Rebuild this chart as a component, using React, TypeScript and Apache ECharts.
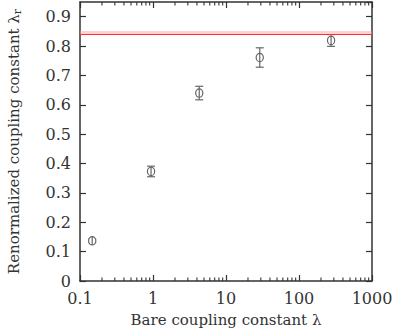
import React, { useEffect, useRef } from "react";
import * as echarts from "echarts";

const bareCoupling = [0.147, 0.94, 4.3, 29, 275];
const renormCoupling = [0.137, 0.373, 0.64, 0.761, 0.819];
const errors = [0.006, 0.018, 0.023, 0.033, 0.02];
const continuumValue = 0.845;
const continuumBand = [0.839, 0.851];
const minorTickValues = [
  0.2, 0.3, 0.4, 0.5, 0.6, 0.7, 0.8, 0.9,
  2, 3, 4, 5, 6, 7, 8, 9,
  20, 30, 40, 50, 60, 70, 80, 90,
  200, 300, 400, 500, 600, 700, 800, 900,
];

const FONT = "DejaVu Serif";
const AXIS_COLOR = "#333";
const TEXT_COLOR = "#333";
const POINT_COLOR = "#666";

export default function App() {
  const ref = useRef<HTMLDivElement>(null);
  useEffect(() => {
    if (!ref.current) return;
    const chart = echarts.init(ref.current, undefined, { renderer: "svg" });
    const X_MIN = 0.1, X_MAX = 1000, Y_MIN = 0, Y_MAX = 0.95;
    const pointData = bareCoupling.map((x, i) => [x, renormCoupling[i], errors[i]]);
    chart.setOption({
      animation: false,
      backgroundColor: "#fff",
      textStyle: { fontFamily: FONT },
      grid: { left: 80, right: 34, top: 2, bottom: 53, show: false, containLabel: false, outerBoundsMode: "none" },
      xAxis: [
        {
          type: "log",
          logBase: 10,
          min: X_MIN,
          max: X_MAX,
          name: "Bare coupling constant λ",
          nameLocation: "middle",
          nameGap: 31,
          nameTextStyle: { fontFamily: FONT, fontSize: 15, color: TEXT_COLOR },
          axisLine: { lineStyle: { color: AXIS_COLOR, width: 1.5 } },
          axisTick: { inside: true, length: 6, lineStyle: { color: AXIS_COLOR, width: 1.2 } },
          axisLabel: {
            fontFamily: FONT,
            fontSize: 16,
            color: TEXT_COLOR,
            margin: 9,
            formatter: (v: number) => String(v),
          },
          splitLine: { show: false },
        },
        {
          type: "log",
          logBase: 10,
          position: "top",
          min: X_MIN,
          max: X_MAX,
          axisLine: { show: true, onZero: false, lineStyle: { color: AXIS_COLOR, width: 1.5 } },
          axisTick: { inside: true, length: 6, lineStyle: { color: AXIS_COLOR, width: 1.2 } },
          axisLabel: { show: false },
          splitLine: { show: false },
        },
      ],
      yAxis: [
        {
          type: "value",
          min: Y_MIN,
          max: Y_MAX,
          interval: 0.1,
          name: "{a|Renormalized coupling constant λ}{s|r}",
          nameLocation: "middle",
          nameGap: 57,
          nameRotate: 90,
          nameTextStyle: {
            fontFamily: FONT,
            fontSize: 15,
            color: TEXT_COLOR,
            rich: {
              a: { fontFamily: FONT, fontSize: 15, color: TEXT_COLOR },
              s: { fontFamily: FONT, fontSize: 11, color: TEXT_COLOR, verticalAlign: "bottom", padding: [8, 0, 0, 0] },
            },
          },
          axisLine: { show: true, onZero: false, lineStyle: { color: AXIS_COLOR, width: 1.5 } },
          axisTick: { inside: true, length: 6, lineStyle: { color: AXIS_COLOR, width: 1.2 } },
          axisLabel: {
            fontFamily: FONT,
            fontSize: 16,
            color: TEXT_COLOR,
            margin: 9,
            formatter: (v: number) => (Math.abs(v) < 1e-9 ? "0" : v.toFixed(1)),
          },
          splitLine: { show: false },
        },
        {
          type: "value",
          position: "right",
          min: Y_MIN,
          max: Y_MAX,
          interval: 0.1,
          axisLine: { show: true, onZero: false, lineStyle: { color: AXIS_COLOR, width: 1.5 } },
          axisTick: { inside: true, length: 6, lineStyle: { color: AXIS_COLOR, width: 1.2 } },
          axisLabel: { show: false },
          splitLine: { show: false },
        },
      ],
      series: [
        {
          type: "custom",
          name: "minorTicks",
          silent: true,
          clip: false,
          data: minorTickValues.map((v) => [v, Y_MIN]),
          encode: { x: 0, y: 1 },
          renderItem: (params: any, api: any) => {
            const v = api.value(0);
            const b = api.coord([v, Y_MIN]);
            const t = api.coord([v, Y_MAX]);
            const style = { stroke: AXIS_COLOR, lineWidth: 1.1 };
            return {
              type: "group",
              children: [
                { type: "line", shape: { x1: b[0], y1: b[1], x2: b[0], y2: b[1] - 3.5 }, style },
                { type: "line", shape: { x1: t[0], y1: t[1], x2: t[0], y2: t[1] + 3.5 }, style },
              ],
            };
          },
          z: 5,
        },
        {
          type: "custom",
          name: "data",
          data: pointData,
          encode: { x: 0, y: 1 },
          renderItem: (params: any, api: any) => {
            const x = api.value(0);
            const y = api.value(1);
            const e = api.value(2);
            const c = api.coord([x, y]);
            const lo = api.coord([x, y - e]);
            const hi = api.coord([x, y + e]);
            const style = { stroke: POINT_COLOR, lineWidth: 1.2, fill: "none" };
            const cap = 4;
            return {
              type: "group",
              children: [
                { type: "line", shape: { x1: c[0], y1: lo[1], x2: c[0], y2: hi[1] }, style },
                { type: "line", shape: { x1: c[0] - cap, y1: lo[1], x2: c[0] + cap, y2: lo[1] }, style },
                { type: "line", shape: { x1: c[0] - cap, y1: hi[1], x2: c[0] + cap, y2: hi[1] }, style },
                { type: "ellipse", shape: { cx: c[0], cy: c[1], rx: 3.6, ry: 4.2 }, style: { stroke: POINT_COLOR, lineWidth: 1.2, fill: "#fff" } },
                { type: "line", shape: { x1: c[0], y1: c[1] - 4.2, x2: c[0], y2: c[1] + 4.2 }, style },
              ],
            };
          },
          markArea: {
            silent: true,
            itemStyle: { color: "rgba(255, 150, 160, 0.45)" },
            data: [[{ yAxis: continuumBand[0] }, { yAxis: continuumBand[1] }]],
          },
          markLine: {
            silent: true,
            symbol: "none",
            label: { show: false },
            lineStyle: { color: "#ff3030", width: 1, type: "solid" },
            data: [{ yAxis: continuumValue }],
          },
          z: 4,
        },
      ],
    });
    return () => chart.dispose();
  }, []);
  return <div ref={ref} style={{ position: "fixed", left: 0, top: 0, width: 406, height: 334 }} />;
}
